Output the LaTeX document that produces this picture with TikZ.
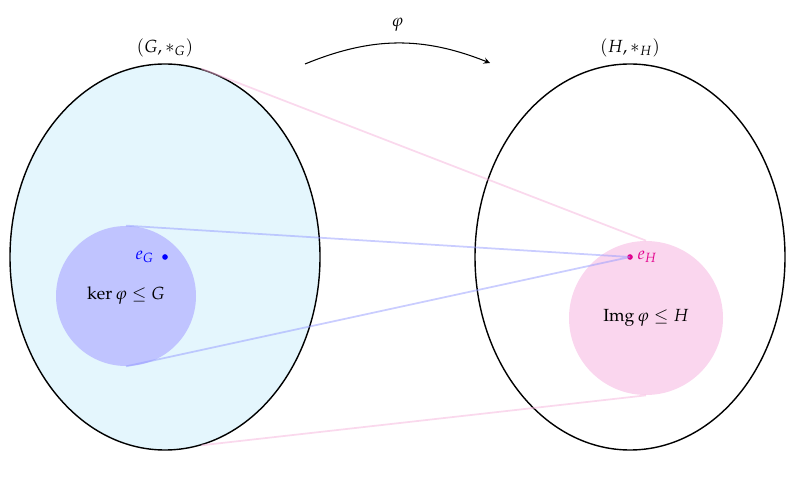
\documentclass[tikz,border=0pt]{standalone}
\usepackage{amsmath}
\usepackage{mathpazo}
\usetikzlibrary{shapes.geometric,positioning}
\definecolor{grpfill}{RGB}{228,246,253}
\definecolor{kerfill}{RGB}{192,196,255}
\definecolor{imgfill}{RGB}{250,214,238}
\definecolor{imgline}{RGB}{246,180,220}
\definecolor{kerline}{RGB}{150,156,255}
\definecolor{eHcol}{RGB}{226,0,140}
\tikzset{
  group/.style={draw, line width=.8pt, ellipse, inner sep=0pt, minimum width=6.2cm, minimum height=7.72cm},
  sub/.style={circle, inner sep=0pt},
  unit/.style={circle, fill, inner sep=0pt, minimum size=3.2pt}
}

\begin{document}
\begin{tikzpicture}
            \useasboundingbox (0,0) rectangle (15.94,9.64);
            \node[group, fill=grpfill] at (3.30,4.50) (G) {};
            \node[group] at (12.60,4.50) (H) {};
            \node[above=0pt of G.north] (Glab) {$(G,*_G)$};
            \node[above=0pt of H.north] (Hlab) {$(H,*_H)$};
            \node[sub, fill=kerfill, minimum size=2.80cm] at (2.52,3.72) (ker) {$\ker\varphi\leq G$};
            \node[sub, fill=imgfill, minimum size=3.08cm] at (12.92,3.28) (img) {$\operatorname{Img}\varphi\leq H$};
            \node[unit, blue] at (G.center) (eG) {};
            \node[unit, eHcol] at (H.center) (eH) {};
            \node[left=1pt of eG, blue] {$e_G$};
            \node[right=-1pt of eH, eHcol] {$e_H$};
            \draw[imgline, opacity=.5, line width=1pt]
            (G.79)--(img.north)
            (G.-79)--(img.south);
            \draw[kerline, opacity=.5, line width=1pt]
            (ker.north)--(eH.center)
            (ker.south)--(eH.center);
            \coordinate (phiA) at (6.10,8.36);
            \coordinate (phiB) at (9.80,8.38);
            \draw[->, >=stealth, semithick] (phiA) to[bend left=22] node[above=3pt] {$\varphi$} (phiB);
        \end{tikzpicture}
\end{document}
